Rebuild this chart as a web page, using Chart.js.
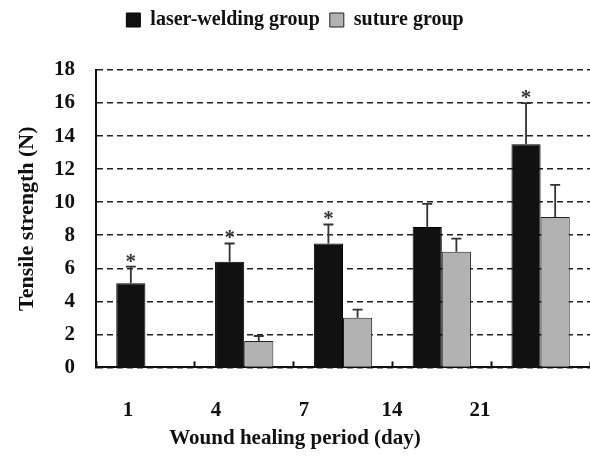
<!DOCTYPE html>
<html>
<head>
<meta charset="utf-8">
<script src="https://cdn.jsdelivr.net/npm/chart.js@4"></script>
<style>
  html, body { margin: 0; padding: 0; background: #fff; }
  #wrap { width: 590px; height: 470px; }
</style>
</head>
<body>
<div id="wrap"><canvas id="chart" width="590" height="470"></canvas></div>
<script>
const days = ['1', '4', '7', '14', '21'];
const laserMean = [5.1, 6.4, 7.5, 8.5, 13.5];
const laserErr = [1.0, 1.1, 1.15, 1.4, 2.5];
const sutureMean = [0, 1.6, 3.0, 7.0, 9.1];
const sutureErr = [0, 0.3, 0.5, 0.8, 1.95];
const laserSig = [true, true, true, false, true];

const serif = '"Liberation Serif", "Times New Roman", serif';

// error bars (upward only) + significance stars
const errorBars = {
  id: 'errorBars',
  afterDatasetsDraw(chart) {
    const ctx = chart.ctx;
    const y = chart.scales.y;
    const errs = [laserErr, sutureErr];
    const means = [laserMean, sutureMean];
    ctx.save();
    ctx.strokeStyle = '#333';
    ctx.lineWidth = 1.8;
    chart.data.datasets.forEach((ds, di) => {
      const meta = chart.getDatasetMeta(di);
      meta.data.forEach((bar, i) => {
        if (!errs[di][i]) return;
        const yTop = y.getPixelForValue(means[di][i] + errs[di][i]);
        const yBase = y.getPixelForValue(means[di][i]);
        ctx.beginPath();
        ctx.moveTo(bar.x, yBase);
        ctx.lineTo(bar.x, yTop);
        ctx.moveTo(bar.x - 5, yTop);
        ctx.lineTo(bar.x + 5, yTop);
        ctx.stroke();
        if (di === 0 && laserSig[i]) {
          ctx.fillStyle = '#333';
          ctx.font = 'bold 21px ' + serif;
          ctx.textAlign = 'center';
          ctx.textBaseline = 'bottom';
          ctx.fillText('*', bar.x, yTop + 6);
        }
      });
    });
    ctx.restore();
  }
};

new Chart(document.getElementById('chart').getContext('2d'), {
  type: 'bar',
  data: {
    labels: days,
    datasets: [
      {
        label: 'laser-welding group',
        data: laserMean,
        backgroundColor: '#111',
        borderColor: '#000',
        borderWidth: 1,
        categoryPercentage: 0.59,
        barPercentage: 1.0
      },
      {
        label: 'suture group',
        data: sutureMean,
        backgroundColor: '#b2b2b2',
        borderColor: '#222',
        borderWidth: 1,
        categoryPercentage: 0.59,
        barPercentage: 1.0
      }
    ]
  },
  options: {
    responsive: false,
    animation: false,
    layout: { padding: 0 },
    plugins: {
      tooltip: { enabled: false },
      legend: {
        position: 'top',
        weight: 1000,
        labels: {
          color: '#111',
          font: { family: serif, size: 20, weight: 'bold' },
          boxWidth: 14,
          boxHeight: 14,
          padding: 10
        }
      },
      // empty spacer between the legend and the plot
      subtitle: {
        display: true,
        text: '',
        position: 'top',
        weight: 500,
        font: { size: 10 },
        padding: { top: 0, bottom: 18 }
      },
      // x-axis caption, centred on the whole figure like the original
      title: {
        display: true,
        position: 'bottom',
        text: 'Wound healing period (day)',
        color: '#111',
        weight: 2000,
        padding: { top: 0, bottom: 19 },
        font: { family: serif, size: 21, weight: 'bold' }
      }
    },
    scales: {
      x: {
        offset: true,
        weight: 0,
        grid: { drawOnChartArea: false, drawTicks: true, tickLength: -6, tickColor: '#111', tickWidth: 2 },
        border: { color: '#111', width: 2 },
        ticks: { display: false },
        afterFit(scale) { scale.height = 0; }
      },
      // label row under the axis (the original's labels sit on a tighter spacing than the bars)
      xl: {
        type: 'linear',
        position: 'bottom',
        weight: 1,
        offset: false,
        bounds: 'data',
        min: -0.364,
        max: 5.25,
        grid: { display: false, offset: false },
        border: { display: false },
        afterBuildTicks(scale) { scale.ticks = days.map((d, i) => ({ value: i })); },
        ticks: {
          color: '#111',
          padding: 23,
          maxRotation: 0,
          autoSkip: false,
          font: { family: serif, size: 21, weight: 'bold' },
          callback: (v) => days[v]
        },
        afterFit(scale) { scale.height = 58.4; }
      },
      y: {
        min: 0,
        max: 18,
        ticks: { stepSize: 2, color: '#111', padding: 21, font: { family: serif, size: 21, weight: 'bold' } },
        grid: { color: '#222', lineWidth: 1.5, drawTicks: false },
        border: { color: '#111', width: 2, dash: [6, 4] },
        title: {
          display: true,
          text: 'Tensile strength (N)',
          color: '#111',
          padding: { top: 14, bottom: 0 },
          font: { family: serif, size: 22, weight: 'bold' }
        },
        afterFit(scale) { scale.width = 96; }
      }
    }
  },
  plugins: [errorBars]
});
</script>
</body>
</html>
